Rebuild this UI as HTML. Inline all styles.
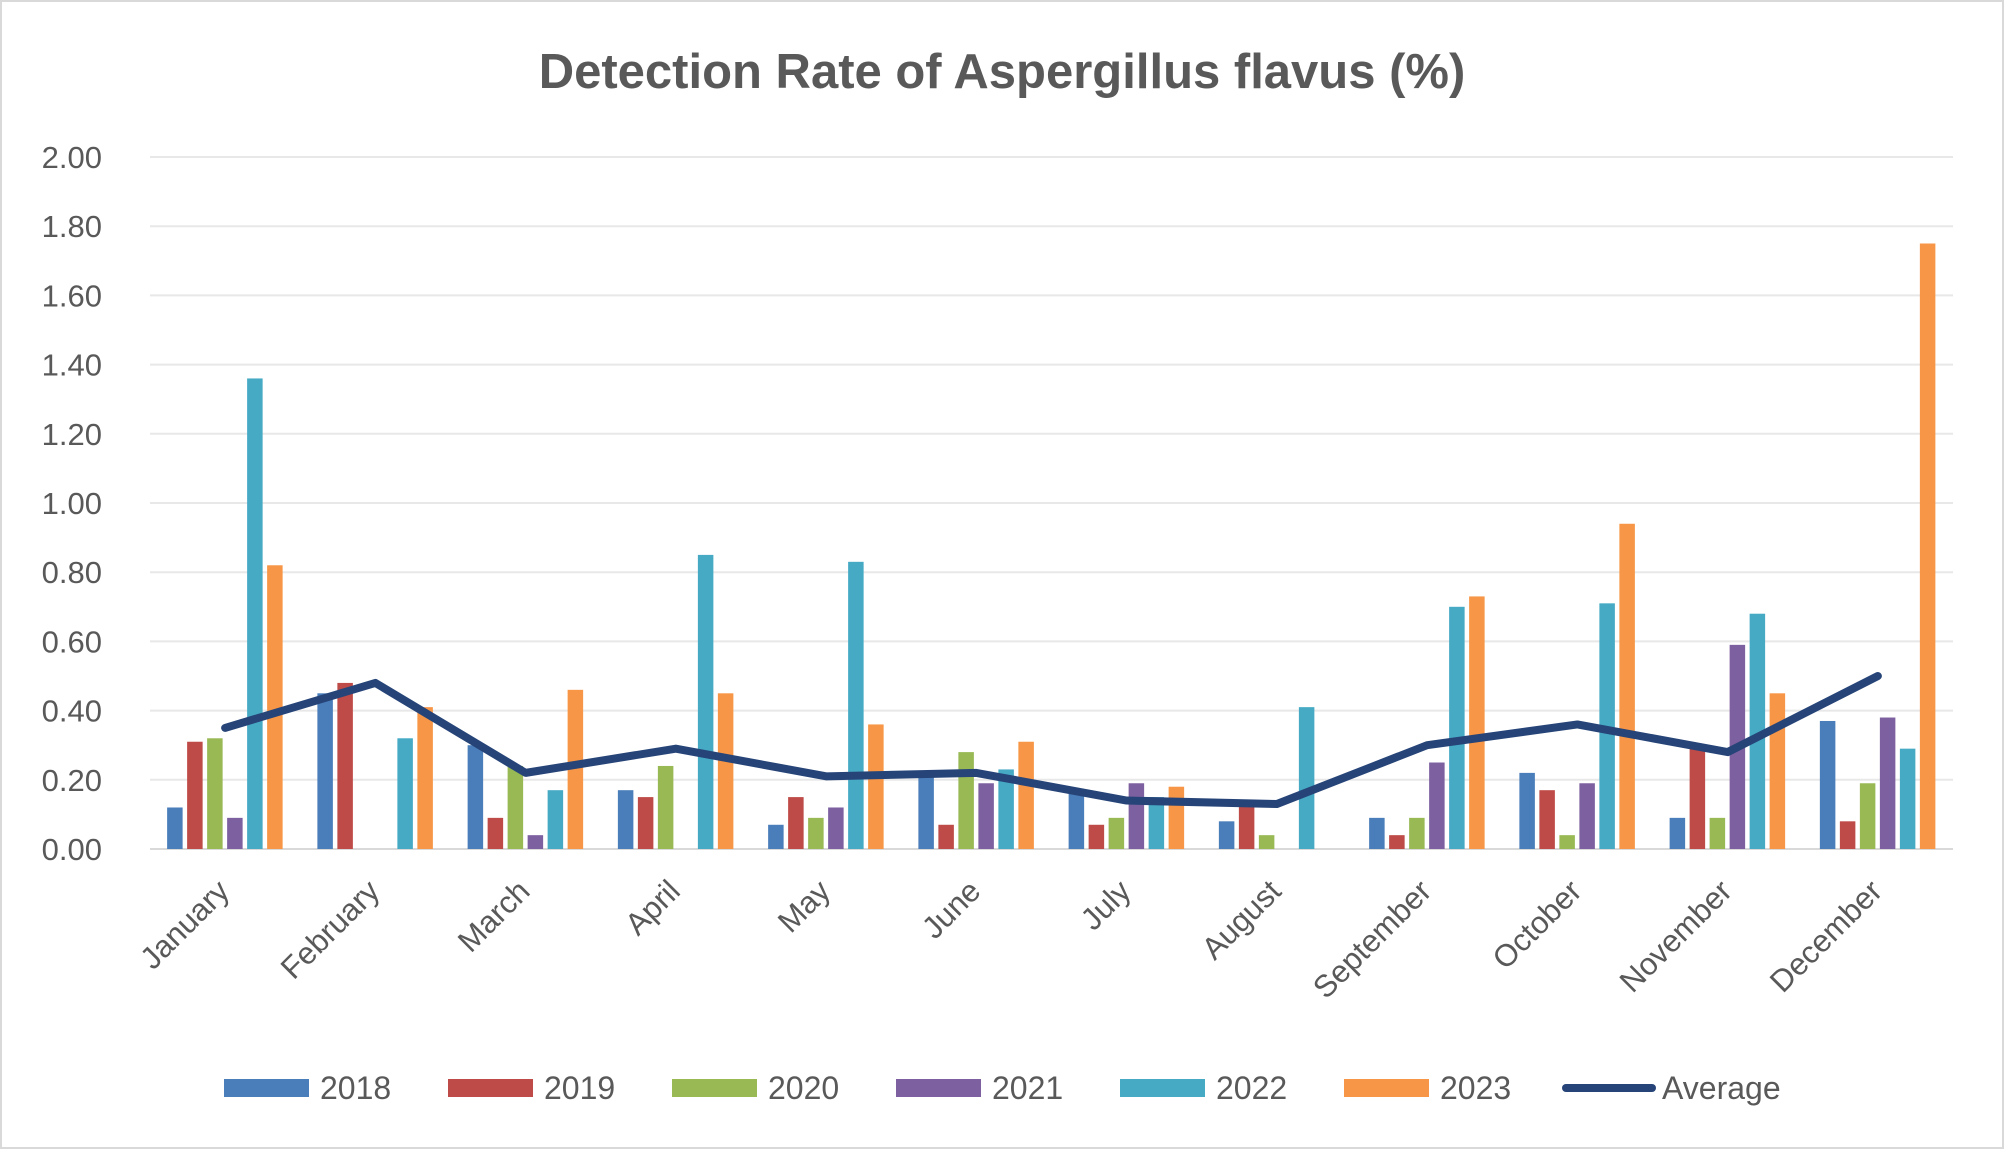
<!DOCTYPE html>
<html><head><meta charset="utf-8"><style>
body{margin:0;background:#fff;}
svg{display:block;font-family:"Liberation Sans",sans-serif;}
</style></head><body>
<svg id="chart" width="2004" height="1149" viewBox="0 0 2004 1149">
<rect x="1" y="1" width="2002" height="1147" fill="#fff" stroke="#d9d9d9" stroke-width="2"/>
<text x="1002" y="88" text-anchor="middle" font-size="49" font-weight="bold" fill="#595959">Detection Rate of Aspergillus flavus (%)</text>
<g id="grid"></g><g id="bars"></g><g id="line"></g><g id="xlabels"></g><g id="legend"></g>
</svg>
<script>
const months=["January","February","March","April","May","June","July","August","September","October","November","December"];
const years=["2018","2019","2020","2021","2022","2023"];
const colors=["#4a7ebb","#be4b48","#98b954","#7d60a0","#46aac5","#f79646"];
const s2018=[0.12,0.45,0.30,0.17,0.07,0.22,0.16,0.08,0.09,0.22,0.09,0.37];
const s2019=[0.31,0.48,0.09,0.15,0.15,0.07,0.07,0.13,0.04,0.17,0.29,0.08];
const s2020=[0.32,0,0.24,0.24,0.09,0.28,0.09,0.04,0.09,0.04,0.09,0.19];
const s2021=[0.09,0,0.04,0,0.12,0.19,0.19,0,0.25,0.19,0.59,0.38];
const s2022=[1.36,0.32,0.17,0.85,0.83,0.23,0.15,0.41,0.70,0.71,0.68,0.29];
const s2023=[0.82,0.41,0.46,0.45,0.36,0.31,0.18,0,0.73,0.94,0.45,1.75];
const average=[0.35,0.48,0.22,0.29,0.21,0.22,0.14,0.13,0.30,0.36,0.28,0.50];
const yTicks=[0,0.2,0.4,0.6,0.8,1.0,1.2,1.4,1.6,1.8,2.0];
const series=[s2018,s2019,s2020,s2021,s2022,s2023];
const NS="http://www.w3.org/2000/svg";
const X0=150,X1=1953,Y0=849,Y1=157,YMAX=2;
const cw=(X1-X0)/months.length;
const y=v=>Y0-(v/YMAX)*(Y0-Y1);
const xc=i=>X0+cw*(i+0.5);
function mk(t,a,p){const e=document.createElementNS(NS,t);for(const k in a)e.setAttribute(k,a[k]);p.appendChild(e);return e;}
const grid=document.getElementById('grid');
yTicks.forEach(t=>{
 const l=mk('line',{x1:X0,x2:X1,y1:y(t),y2:y(t),stroke:t===0?'#d9d9d9':'#e8e8e8','stroke-width':2},grid);
 
 
 const tx=mk('text',{x:102,y:y(t)+11,'text-anchor':'end','font-size':31,fill:'#595959'},grid);
 tx.textContent=t.toFixed(2);
 
 
});
const bars=document.getElementById('bars');
const bw=15.5,step=20;
series.forEach((s,si)=>{s.forEach((v,i)=>{
 const bx=xc(i)-60+si*step+2;
 const r=mk('rect',{x:bx,y:y(v),width:bw,height:Y0-y(v),fill:colors[si]},bars);
 
 
});});
const pl=mk('polyline',{points:average.map((v,i)=>xc(i)+','+y(v)).join(' '),fill:'none',stroke:'#264478','stroke-width':8,'stroke-linecap':'round','stroke-linejoin':'round'},document.getElementById('line'));


const xl=document.getElementById('xlabels');
months.forEach((m,i)=>{
 const t=mk('text',{x:0,y:0,'text-anchor':'end','font-size':31,fill:'#595959',transform:`translate(${xc(i)+6},${Y0+44}) rotate(-45)`},xl);
 t.textContent=m;
 
 
});
const lg=document.getElementById('legend');
years.forEach((yr,i)=>{
 const lx=224+i*224;
 const r=mk('rect',{x:lx,y:1079,width:85,height:18,fill:colors[i]},lg);
 
 
 const t=mk('text',{x:lx+96,y:1099,'font-size':32,fill:'#595959'},lg);
 t.textContent=yr;
 
 
});
const al=mk('line',{x1:1566,x2:1652,y1:1088,y2:1088,stroke:'#264478','stroke-width':8,'stroke-linecap':'round'},lg);


const at=mk('text',{x:1662,y:1099,'font-size':32,fill:'#595959'},lg);
at.textContent='Average';


</script>
</body></html>
